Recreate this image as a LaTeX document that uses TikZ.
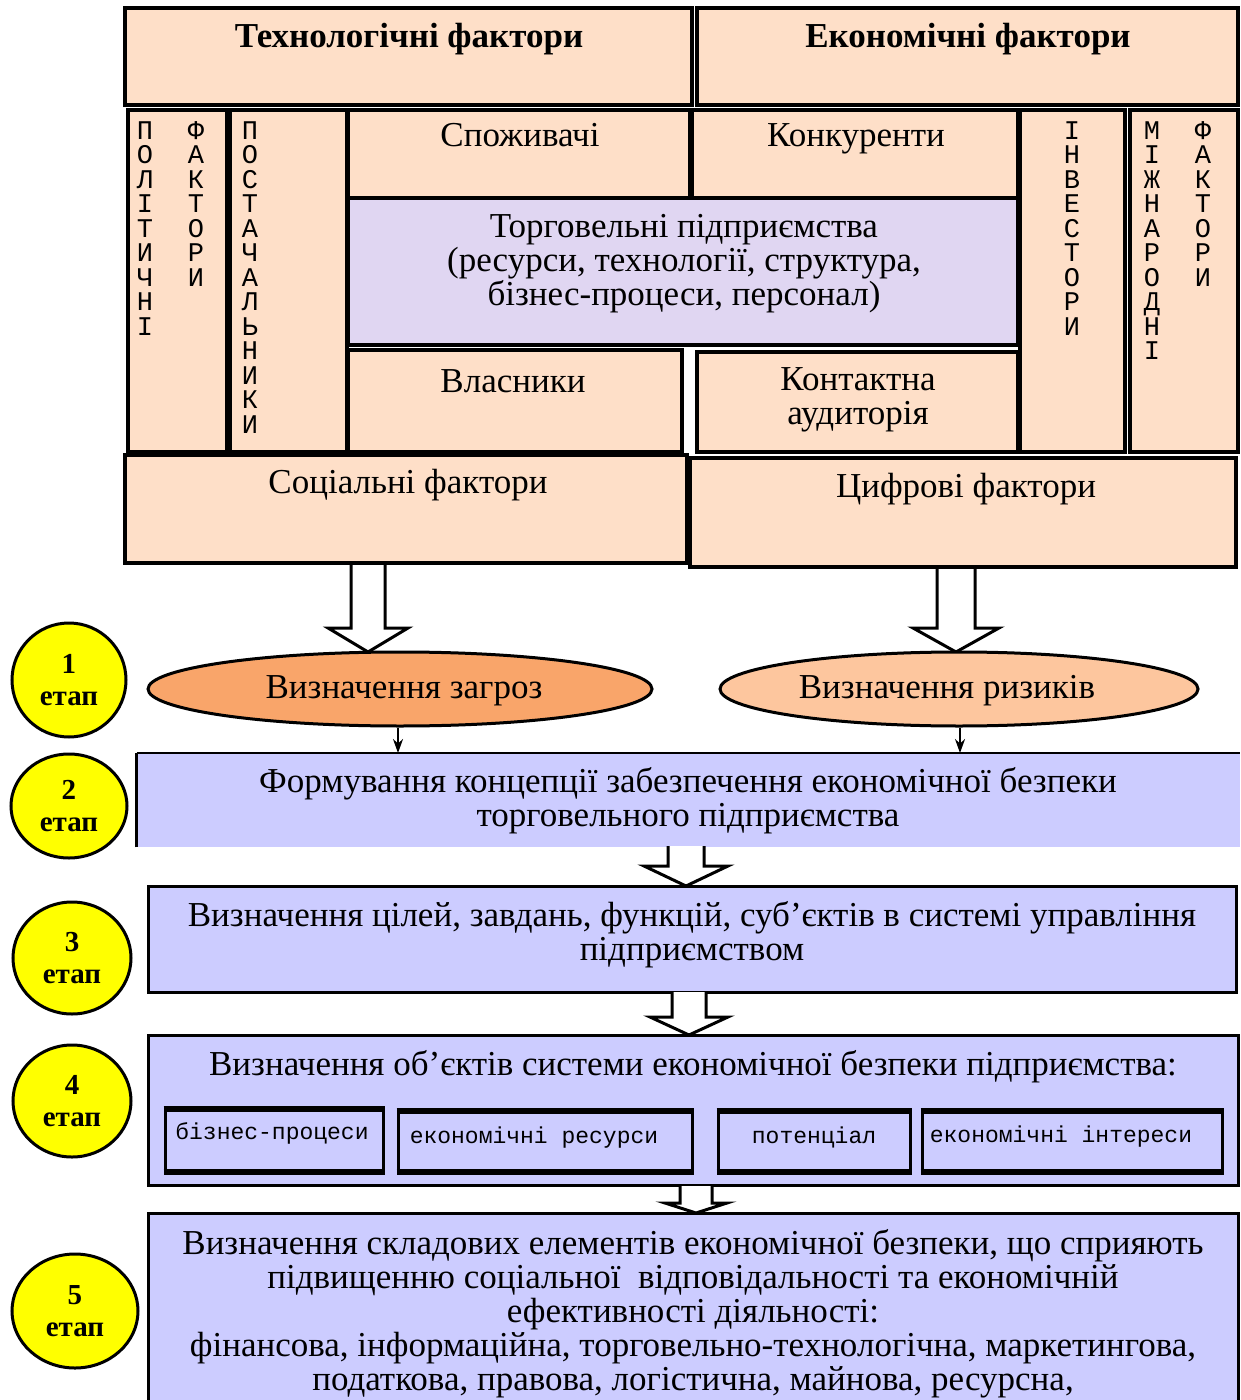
\documentclass[tikz,border=0pt]{standalone}
\usepackage{fontspec}
\setmainfont{Liberation Serif}
\newfontfamily\monofam{Liberation Mono}
\usetikzlibrary{fit,arrows.meta,shapes.geometric}

\definecolor{peach}{RGB}{254,223,200}
\definecolor{lilac}{RGB}{224,214,242}
\definecolor{stagefill}{RGB}{204,204,255}
\definecolor{threat}{RGB}{249,165,106}
\definecolor{risk}{RGB}{253,198,158}
\definecolor{stageball}{RGB}{255,255,0}

\tikzset{
  cellbox/.style={draw=black, line width=2pt, fill=peach, inner sep=0pt},
  stagebox/.style={draw=black, line width=1.5pt, fill=stagefill, inner sep=0pt},
  objbox/.style={draw=black, line width=1.5pt, fill=stagefill, inner sep=0pt},
  maintext/.style={inner sep=0pt, align=center, font=\fontsize{17.5}{17}\selectfont},
  headtext/.style={inner sep=0pt, align=center, font=\bfseries\fontsize{17.5}{17}\selectfont},
  vertext/.style={inner sep=0pt, anchor=north, align=center, font=\monofam\fontsize{13.5}{12.25}\selectfont},
  objtext/.style={inner sep=0pt, font=\monofam\fontsize{11.5}{12}\selectfont},
  stagecircle/.style={ellipse, draw=black, line width=1.5pt, fill=stageball, inner sep=0pt,
    align=center, font=\bfseries\fontsize{14.5}{16}\selectfont},
  stepoval/.style={ellipse, draw=black, line width=1.5pt, inner sep=0pt, minimum height=37pt},
  hollow/.style={draw=black, line width=1.5pt, fill=white, line join=miter},
  thin arrow/.style={draw=black, line width=1pt, -{Stealth[length=7pt,width=5pt]}}
}

% hollow block arrow: x, top y, tip y, shaft half width, head half width, head length
\newcommand\hollowarrow[6]{%
  \draw[hollow] (#1-#4,#2) -- (#1-#4,#3-#6) -- (#1-#5,#3-#6) -- (#1,#3)
    -- (#1+#5,#3-#6) -- (#1+#4,#3-#6) -- (#1+#4,#2);}

% heavier top and bottom edges of an object box
\newcommand\heavyedges[1]{%
  \draw[black, line width=2.8pt] (#1.north west) -- (#1.north east);
  \draw[black, line width=3pt] (#1.south west) -- (#1.south east);}

\begin{document}
\begin{tikzpicture}[x=0.5pt,y=-0.5pt]
\useasboundingbox (0,0) rectangle (1240,1400);

% ---------- environment of the trading enterprise ----------
\node[cellbox, fit={(125,8) (692,105)}] (tech) {};
\node[cellbox, fit={(697,8) (1238,105)}] (econ) {};
\node[cellbox, fit={(128,110) (227,452)}] (pol) {};
\node[cellbox, fit={(230,110) (347,452)}] (sup) {};
\node[cellbox, fit={(348,110) (690,198)}] (cons) {};
\node[cellbox, fit={(692,110) (1018,198)}] (comp) {};
\node[cellbox, fill=lilac, fit={(348,198) (1018,345)}] (firm) {};
\node[cellbox, fit={(348,350) (682,452)}] (own) {};
\node[cellbox, fit={(697,352) (1018,452)}] (aud) {};
\node[cellbox, fit={(1020,110) (1125,452)}] (inv) {};
\node[cellbox, fit={(1130,110) (1238,452)}] (intl) {};
\node[cellbox, fit={(125,455) (687,563)}] (soc) {};
\node[cellbox, fit={(690,458) (1236,567)}] (dig) {};

\node[headtext] (ttech) at (409,39) {Технологічні фактори};
\node[headtext] (tecon) at (968,39) {Економічні фактори};
\node[maintext] (tcons) at (520,135) {Споживачі};
\node[maintext] (tcomp) at (856,139) {Конкуренти};
\node[maintext] (tfirm) at (684,264) {Торговельні підприємства\\(ресурси, технології, структура,\\бізнес-процеси, персонал)};
\node[maintext] (town) at (513,381) {Власники};
\node[maintext] (taud) at (858,400) {Контактна\\аудиторія};
\node[maintext] (tsoc) at (408,485) {Соціальні фактори};
\node[maintext] (tdig) at (966,489) {Цифрові фактори};

\node[vertext] (tpol) at (145,121) {П\\О\\Л\\І\\Т\\И\\Ч\\Н\\І};
\node[vertext] (tpolf) at (196,121) {Ф\\А\\К\\Т\\О\\Р\\И};
\node[vertext] (tsup) at (250,121) {П\\О\\С\\Т\\А\\Ч\\А\\Л\\Ь\\Н\\И\\К\\И};
\node[vertext] (tinv) at (1072,121) {І\\Н\\В\\Е\\С\\Т\\О\\Р\\И};
\node[vertext] (tintl) at (1152,121) {М\\І\\Ж\\Н\\А\\Р\\О\\Д\\Н\\І};
\node[vertext] (tintlf) at (1203,121) {Ф\\А\\К\\Т\\О\\Р\\И};

% ---------- stage 1 ----------
\hollowarrow{368}{565}{652}{17}{40}{24}
\hollowarrow{956}{569}{652}{19}{43}{24}

\node[stepoval, fill=threat, minimum width=252pt] (threats) at (400,689) {};
\node[stepoval, fill=risk, minimum width=239pt] (risks) at (959,689) {};
\node[maintext] (tthreats) at (404,691) {Визначення загроз};
\node[maintext] (trisks) at (947,691) {Визначення ризиків};

% ---------- stage 2 ----------
\node[fill=stagefill, inner sep=0pt, fit={(137,753) (1240,847)}] (s2) {};
\draw[black, line width=1.5pt] (s2.south west) -- (s2.north west);
\draw[black, line width=1pt] (s2.north west) -- (s2.north east);
\node[maintext] (t2) at (688,801) {Формування концепції забезпечення економічної безпеки\\торговельного підприємства};

\draw[thin arrow] (threats.south -| 398,0) -- (398,753);
\draw[thin arrow] (risks.south -| 960,0) -- (960,753);

% ---------- stage 3 ----------
\hollowarrow{686}{846}{886}{18}{42}{20}
\node[stagebox, fit={(148,886) (1236,992)}] (s3) {};
\node[maintext] (t3) at (692,935) {Визначення цілей, завдань, функцій, суб’єктів в системі управління\\підприємством};

% ---------- stage 4 ----------
\hollowarrow{689}{992}{1035}{17}{39}{18}
\node[stagebox, fit={(148,1035) (1238,1185)}] (s4) {};
\node[maintext] (t4) at (693,1067) {Визначення об’єктів системи економічної безпеки підприємства:};
\node[objbox, fit={(165,1110) (383,1170)}] (o1) {};
\node[objbox, fit={(398,1112) (692,1170)}] (o2) {};
\node[objbox, fit={(718,1112) (910,1170)}] (o3) {};
\node[objbox, fit={(922,1112) (1222,1170)}] (o4) {};
\heavyedges{o1}\heavyedges{o2}\heavyedges{o3}\heavyedges{o4}
\node[objtext] at (272,1133) {бізнес-процеси};
\node[objtext] at (534,1138) {економічні ресурси};
\node[objtext] at (814,1137) {потенціал};
\node[objtext] at (1061,1137) {економічні інтереси};

% ---------- stage 5 ----------
\hollowarrow{696}{1186}{1213}{16}{31}{10}
\node[stagebox, fit={(148,1213) (1238,1430)}] (s5) {};
\node[maintext, anchor=north] (t5) at (693,1229) {Визначення складових елементів економічної безпеки, що сприяють\\підвищенню соціальної\ \ відповідальності та економічній\\ефективності діяльності:\\фінансова, інформаційна, торговельно-технологічна, маркетингова,\\податкова, правова, логістична, майнова, ресурсна,};

% ---------- stage markers ----------
\node[stagecircle, minimum width=57pt, minimum height=57pt] (st1) at (69,680) {1\\етап};
\node[stagecircle, minimum width=58pt, minimum height=52pt] (st2) at (69,806) {2\\етап};
\node[stagecircle, minimum width=59pt, minimum height=56pt] (st3) at (72,958) {3\\етап};
\node[stagecircle, minimum width=59pt, minimum height=56pt] (st4) at (72,1101) {4\\етап};
\node[stagecircle, minimum width=63pt, minimum height=57pt] (st5) at (75,1311) {5\\етап};
\end{tikzpicture}
\end{document}
